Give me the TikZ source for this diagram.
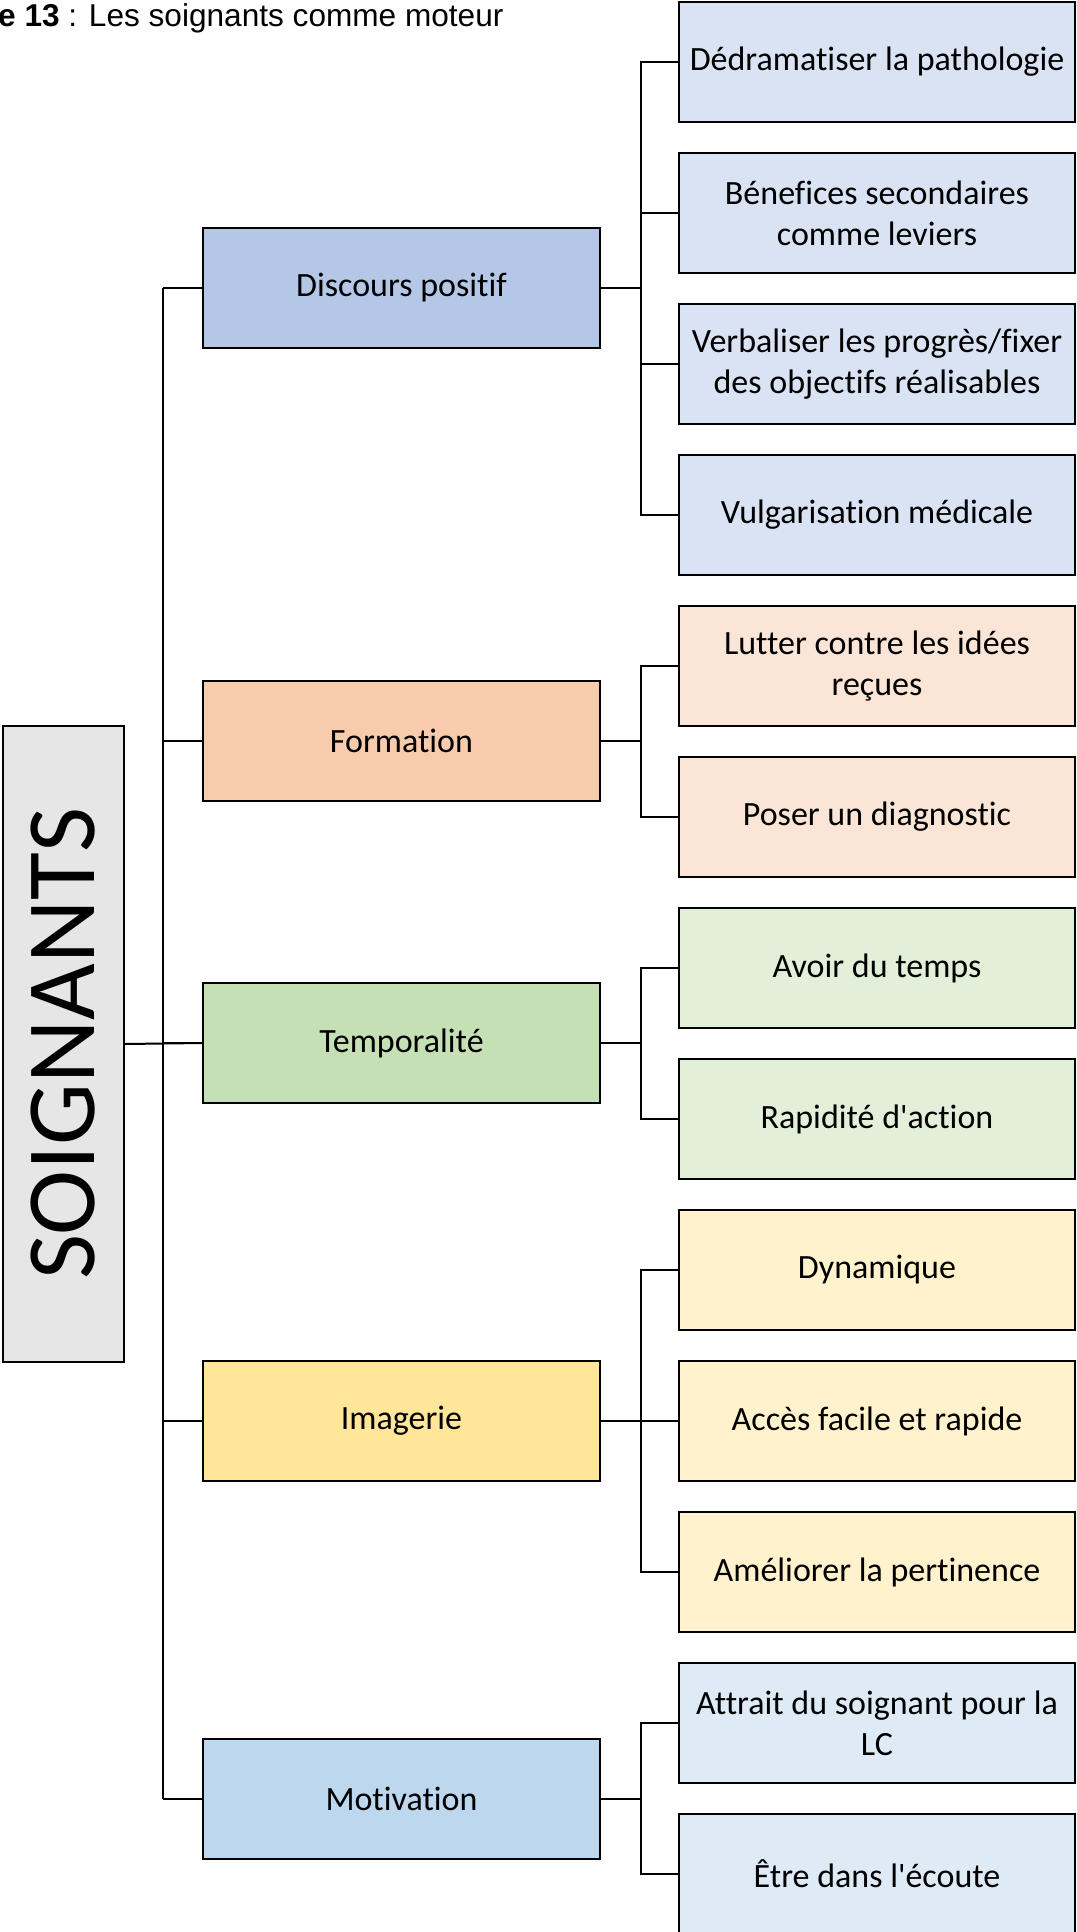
\documentclass[tikz,border=0pt]{standalone}
\usepackage{fontspec}
\setmainfont{Carlito}[Ligatures={TeXOff,CommonOff}]
\newfontfamily\titlefont{Liberation Sans}
\definecolor{rootfill}{HTML}{E6E6E6}
\definecolor{discA}{HTML}{B4C7E7}\definecolor{discB}{HTML}{DAE3F3}
\definecolor{formA}{HTML}{F8CBAD}\definecolor{formB}{HTML}{FBE5D6}
\definecolor{tempA}{HTML}{C5E0B4}\definecolor{tempB}{HTML}{E2F0D9}
\definecolor{imgA}{HTML}{FFE699}\definecolor{imgB}{HTML}{FFF2CC}
\definecolor{motA}{HTML}{BDD7EE}\definecolor{motB}{HTML}{DEEBF7}
\tikzset{
  box/.style={draw=black, line width=2pt, inner sep=0pt, anchor=north west,
    minimum height=120pt, align=center,
    font=\fontsize{34}{41}\selectfont},
  lvlone/.style={box, minimum width=397pt},
  lvltwo/.style={box, minimum width=396pt},
  link/.style={draw=black, line width=2pt},
}
\begin{document}
\begin{tikzpicture}[x=1pt,y=-1pt]
\useasboundingbox (0,0) rectangle (1076,1932);
\node[anchor=base west, inner sep=0pt, font=\titlefont\fontsize{31.6}{37}\selectfont] (title) at (-2,27) {\textbf{e 13} : Les soignants comme moteur};
% root
\node[draw=black, line width=2pt, fill=rootfill, inner sep=0pt, anchor=north west,
  minimum width=121pt, minimum height=636pt] (root) at (2,725) {};
\node[rotate=90, font=\fontsize{98}{110}\selectfont, inner sep=0pt] (rootlabel) at (root.center) {SOIGNANTS};
% level one
\node[lvlone, fill=discA] (disc) at (202,227) {Discours positif};
\node[lvlone, fill=formA] (form) at (202,680) {Formation};
\node[lvlone, fill=tempA] (temp) at (202,982) {Temporalité};
\node[lvlone, fill=imgA]  (imag) at (202,1360) {Imagerie};
\node[lvlone, fill=motA]  (moti) at (202,1738) {Motivation};
% level two
\node[lvltwo, fill=discB] (d1) at (678,1) {Dédramatiser la pathologie};
\node[lvltwo, fill=discB] (d2) at (678,152) {Bénefices secondaires\\comme leviers};
\node[lvltwo, fill=discB] (d3) at (678,303) {Verbaliser les progrès/fixer\\des objectifs réalisables};
\node[lvltwo, fill=discB] (d4) at (678,454) {Vulgarisation médicale};
\node[lvltwo, fill=formB] (f1) at (678,605) {Lutter contre les idées\\reçues};
\node[lvltwo, fill=formB] (f2) at (678,756) {Poser un diagnostic};
\node[lvltwo, fill=tempB] (t1) at (678,907) {Avoir du temps};
\node[lvltwo, fill=tempB] (t2) at (678,1058) {Rapidité d'action};
\node[lvltwo, fill=imgB]  (i1) at (678,1209) {Dynamique};
\node[lvltwo, fill=imgB]  (i2) at (678,1360) {Accès facile et rapide};
\node[lvltwo, fill=imgB]  (i3) at (678,1511) {Améliorer la pertinence};
\node[lvltwo, fill=motB]  (m1) at (678,1662) {Attrait du soignant pour la\\LC};
\node[lvltwo, fill=motB]  (m2) at (678,1813) {Être dans l'écoute};
% trunk
\draw[link] (root.east) -- (temp.west);
\foreach \n in {disc,form,temp,imag,moti}{
  \draw[link] (\n.west) -- ++(-39,0) coordinate (tr-\n);
}
\draw[link] (tr-disc) -- (tr-moti);
% branches
\foreach \p/\c in {disc/d1,disc/d2,disc/d3,disc/d4,form/f1,form/f2,temp/t1,temp/t2,imag/i1,imag/i2,imag/i3,moti/m1,moti/m2}{
  \draw[link] (\p.east) -- ++(39.5,0) |- (\c.west);
}
\end{tikzpicture}
\end{document}
